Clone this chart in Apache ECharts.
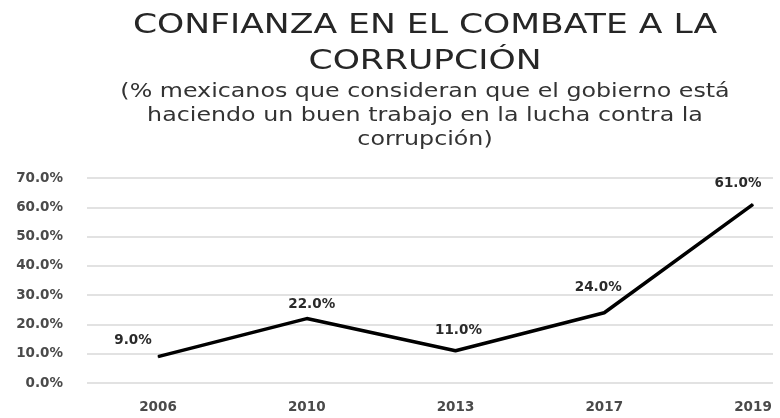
<!DOCTYPE html>
<html><head><meta charset="utf-8">
<script src="https://cdn.jsdelivr.net/npm/echarts@6/dist/echarts.min.js"></script>
<style>html,body{margin:0;padding:0;background:#fff}#c{width:780px;height:418px}</style>
</head><body><div id="c"></div>
<script>
const years = ['2006','2010','2013','2017','2019'];
const confianza = [9.0, 22.0, 11.0, 24.0, 61.0];
const yTicks = [0, 10, 20, 30, 40, 50, 60, 70];
const titleLines = ['CONFIANZA EN EL COMBATE A LA', 'CORRUPCIÓN'];
const subtitleLines = ['(% mexicanos que consideran que el gobierno está', 'haciendo un buen trabajo en la lucha contra la', 'corrupción)'];

const labelOffsets = [[-25,-1],[5,1],[3,-5],[-6,-10],[-15,-5]];
const chart = echarts.init(document.getElementById('c'));
const fontFam = '"DejaVu Sans", sans-serif';

const graphics = [];
titleLines.forEach((t, i) => graphics.push({
  type: 'text', x: 425, y: 26 + i * 36, scaleX: 1.33,
  style: { text: t, x: 0, y: 0, align: 'center', verticalAlign: 'middle',
    font: 'normal 26px "DejaVu Sans", sans-serif', fill: '#262626' }
}));
subtitleLines.forEach((t, i) => graphics.push({
  type: 'text', x: 425, y: 92 + i * 24, scaleX: 1.25,
  style: { text: t, x: 0, y: 0, align: 'center', verticalAlign: 'middle',
    font: 'normal 19px "DejaVu Sans", sans-serif', fill: '#333333' }
}));

chart.setOption({
  backgroundColor: '#fff',
  animation: false,
  graphic: graphics,
  grid: [
    { left: 87, right: 7, top: 178, bottom: 35 },
    { left: 158, right: 27, top: 178, bottom: 35 }
  ],
  xAxis: [
    { gridIndex: 0, type: 'category', data: years, show: false },
    { gridIndex: 1, type: 'category', data: years, boundaryGap: false,
      axisLine: { show: false }, axisTick: { show: false },
      axisLabel: { margin: 17, color: '#4a4a4a', fontFamily: fontFam, fontWeight: 'bold', fontSize: 13.5 } }
  ],
  yAxis: [
    { gridIndex: 0, type: 'value', min: 0, max: 70, interval: 10,
      axisLine: { show: false }, axisTick: { show: false },
      splitLine: { lineStyle: { color: '#d9d9d9', width: 1.5 } },
      axisLabel: { margin: 24, color: '#4a4a4a', fontFamily: fontFam, fontWeight: 'bold', fontSize: 13.5,
        formatter: v => yTicks.includes(v) ? v.toFixed(1) + '%' : '' } },
    { gridIndex: 1, type: 'value', min: 0, max: 70, interval: 10, show: false, splitLine: { show: false } }
  ],
  series: [{
    type: 'line', xAxisIndex: 1, yAxisIndex: 1,
    data: confianza.map((v, i) => ({ value: v, label: { offset: labelOffsets[i] } })),
    symbol: 'circle', symbolSize: 1, showSymbol: true,
    itemStyle: { color: '#000' },
    lineStyle: { color: '#000', width: 3.5 },
    label: { show: true, position: 'top', distance: 8, color: '#2a2a2a', fontFamily: fontFam,
      fontWeight: 'bold', fontSize: 13.5, formatter: p => p.value.toFixed(1) + '%' }
  }]
});
</script></body></html>
